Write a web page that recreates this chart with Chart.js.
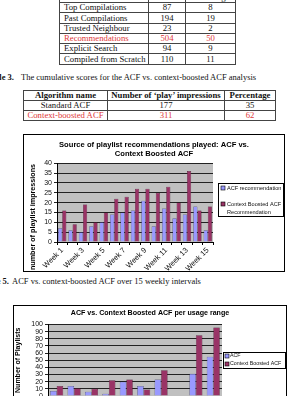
<!DOCTYPE html>
<html><head><meta charset="utf-8">
<script src="https://cdn.jsdelivr.net/npm/chart.js@4/dist/chart.umd.min.js"></script>
<style>
html,body{margin:0;padding:0;background:#fff;}
body{width:288px;height:396px;position:relative;overflow:hidden;font-family:"Liberation Serif","Times New Roman",serif;color:#111;}
.abs{position:absolute;white-space:nowrap;}
table{border-collapse:collapse;font-size:8.7px;line-height:1;}
td{border:1px solid #444;padding:0;text-align:center;}
td.l{text-align:left;padding-left:4px;}
.red{color:#e0393a;}
.cap{font-size:8.5px;line-height:1;}
.box{position:absolute;border:1px solid #000;background:#fff;}
canvas{display:block;}
</style>
</head><body>

<table class="abs" style="left:59px;top:-8px;width:177px;">
<colgroup><col style="width:89px"><col style="width:37px"><col style="width:50px"></colgroup>
<tr style="height:10px"><td class="l">Source</td><td>Number</td><td>Percentage</td></tr>
<tr style="height:10px"><td class="l">Top Compilations</td><td>87</td><td>8</td></tr>
<tr style="height:11px"><td class="l">Past Compilations</td><td>194</td><td>19</td></tr>
<tr style="height:10px"><td class="l">Trusted Neighbour</td><td>23</td><td>2</td></tr>
<tr style="height:10px" class="red"><td class="l">Recommendations</td><td>504</td><td>50</td></tr>
<tr style="height:10px"><td class="l">Explicit Search</td><td>94</td><td>9</td></tr>
<tr style="height:11px"><td class="l">Compiled from Scratch</td><td>110</td><td>11</td></tr>
</table>

<div class="abs cap" style="left:0;top:73px;width:288px;">
<span style="position:absolute;right:274px;font-weight:bold;">Table 3.</span>
<span style="position:absolute;left:21px;">The cumulative scores for the ACF vs. context-boosted ACF analysis</span>
</div>

<table class="abs" style="left:23px;top:90px;width:253px;">
<colgroup><col style="width:84px"><col style="width:117px"><col style="width:51px"></colgroup>
<tr style="height:10px;font-weight:bold"><td>Algorithm name</td><td>Number of ‘play’ impressions</td><td>Percentage</td></tr>
<tr style="height:10px"><td>Standard ACF</td><td>177</td><td>35</td></tr>
<tr style="height:10px" class="red"><td>Context-boosted ACF</td><td>311</td><td>62</td></tr>
</table>

<div class="box" style="left:23px;top:134px;width:260px;height:136px;"><canvas id="c1" width="260" height="136"></canvas></div>

<div class="abs cap" style="left:0;top:277px;width:288px;">
<span style="position:absolute;right:279px;font-weight:bold;">Figure 5.</span>
<span style="position:absolute;left:12px;">ACF vs. context-boosted ACF over 15 weekly intervals</span>
</div>

<div class="box" style="left:13px;top:305px;width:272px;height:138px;"><canvas id="c2" width="272" height="138"></canvas></div>

<script>
// ---- data: weekly chart ----
const weeks = ['Week 1','Week 2','Week 3','Week 4','Week 5','Week 6','Week 7','Week 8','Week 9','Week 10','Week 11','Week 12','Week 13','Week 14','Week 15'];
const acfRecommendation = [7,6,5,8,10,14,15,16,21,8,17,12,14,18,6];
const contextBoostedRecommendation = [16,9,19,10,15,22,23,27,27,25,28,20,36,16,18];
const weeklyTitle = ['Source of playlist recommendations played: ACF vs.','Context Boosted ACF'];
const weeklyYTitle = 'number of playlist impressions';
const weeklySeriesNames = ['ACF recommendation','Context Boosted ACF Recommendation'];

// ---- data: usage range chart ----
const usageRanges = ['1','2','3','4','5','6','7','8','9','10'];
const acfUsage = [7,14,6,3,20,14,23,0,31,55];
const contextBoostedUsage = [14,11,10,22,23,9,36,0,85,96];
const usageTitle = 'ACF vs. Context Boosted ACF per usage range';
const usageYTitle = 'Number of Playlists';
const usageSeriesNames = ['ACF','Context Boosted ACF'];

const BLUE = '#9999ff', PLUM = '#993366';

const plotBg = {
  id:'plotBg',
  beforeDraw(chart){
    const a = chart.chartArea, ctx = chart.ctx;
    ctx.save(); ctx.fillStyle = '#c0c0c0';
    ctx.fillRect(a.left, a.top, a.right - a.left, a.bottom - a.top);
    ctx.restore();
  }
};

// draws the y scale's own title text at a chosen centre (like the source, which centres it lower)
const yTitlePos = {
  id:'yTitlePos',
  afterDraw(chart, args, o){
    if (!o || o.x == null) return;
    const t = chart.options.scales.y.title;
    const ctx = chart.ctx;
    ctx.save();
    ctx.translate(o.x, o.y); ctx.rotate(-Math.PI/2);
    ctx.font = 'bold ' + o.size + 'px "Liberation Sans", Arial, sans-serif';
    ctx.fillStyle = '#000'; ctx.textAlign = 'center'; ctx.textBaseline = 'middle';
    ctx.fillText(t.text, 0, 0);
    ctx.restore();
  }
};

function wrapText(ctx, text, maxw){
  const words = text.split(' '); const lines = []; let cur = '';
  words.forEach(w => {
    const t = cur ? cur + ' ' + w : w;
    if (ctx.measureText(t).width > maxw && cur) { lines.push(cur); cur = w; } else cur = t;
  });
  if (cur) lines.push(cur);
  return lines;
}

const boxLegend = {
  id:'boxLegend',
  afterDraw(chart, args, o){
    const ctx = chart.ctx;
    ctx.save();
    ctx.fillStyle = '#fff'; ctx.fillRect(o.x, o.y, o.w, o.h);
    ctx.strokeStyle = '#000'; ctx.lineWidth = 1;
    ctx.strokeRect(o.x + 0.5, o.y + 0.5, o.w - 1, o.h - 1);
    ctx.font = o.font; ctx.textBaseline = 'middle'; ctx.textAlign = 'left';
    chart.data.datasets.forEach((ds, i) => {
      const it = o.items[i];
      ctx.fillStyle = ds.backgroundColor;
      ctx.fillRect(it.sx, it.sy - o.sq/2, o.sq, o.sq);
      ctx.strokeStyle = '#000'; ctx.lineWidth = 0.6;
      ctx.strokeRect(it.sx, it.sy - o.sq/2, o.sq, o.sq);
      ctx.fillStyle = '#111';
      wrapText(ctx, ds.label, o.maxw).forEach((l, j) => ctx.fillText(l, it.tx, it.sy + j * o.lh));
    });
    ctx.restore();
  }
};

Chart.defaults.font.family = '"Liberation Sans", Arial, sans-serif';
Chart.defaults.color = '#111';

function makeChart(id, cfg){
  return new Chart(document.getElementById(id), {
    type:'bar',
    data:{
      labels: cfg.labels,
      datasets:[
        {label: cfg.names[0], data: cfg.a, backgroundColor: BLUE, borderColor:'#2a2a60', borderWidth:0.5, categoryPercentage: cfg.cat, barPercentage:1},
        {label: cfg.names[1], data: cfg.b, backgroundColor: PLUM, borderColor:'#3a0a20', borderWidth:0.5, categoryPercentage: cfg.cat, barPercentage:1}
      ]
    },
    options:{
      responsive:false, animation:false, devicePixelRatio:1,
      layout:{padding:0},
      plugins:{
        legend:{display:false}, tooltip:{enabled:false},
        title:{display:true, text: cfg.title, font:{size: cfg.titleSize, weight:'bold'}, lineHeight:1.2, color:'#000',
               padding:{top: cfg.titleTop, bottom: cfg.titleBottom}},
        boxLegend: cfg.legend,
        yTitlePos: cfg.yTitlePos || {}
      },
      scales:{
        x:{
          grid:{display:true, drawOnChartArea:false, drawTicks:true, tickLength:3, color:'#000', offset:true},
          border:{display:true, color:'#000', width:1},
          ticks:{autoSkip:false, minRotation: cfg.rot, maxRotation: cfg.rot, padding:1, font:{size:7.5}, color:'#111',
                 callback: function(v, i){ return (i % cfg.every === 0) ? this.getLabelForValue(v) : ''; }},
          afterFit: s => { s.height = cfg.xH; }
        },
        y:{
          min:0, max: cfg.max,
          ticks:{stepSize: cfg.step, autoSkip:false, font:{size:7}, padding:2, color:'#111'},
          grid:{color:'#222', lineWidth:1, tickLength:3, drawTicks:true},
          border:{display:true, color:'#000', width:1},
          title:{display: !cfg.yTitlePos, text: cfg.yTitle, font:{size: 7, weight:'bold'}, color:'#000', padding:{top:0,bottom:0}},
          afterFit: s => { s.width = cfg.yW; }
        },
        legendSpace:{
          type:'linear', position:'right', display:true,
          grid:{display:false, drawTicks:false}, border:{display:false}, ticks:{display:false},
          afterFit: s => { s.width = cfg.padRight; }
        }
      }
    },
    plugins:[plotBg, boxLegend, yTitlePos]
  });
}

makeChart('c1', {
  labels: weeks, a: acfRecommendation, b: contextBoostedRecommendation, names: weeklySeriesNames,
  title: weeklyTitle, titleSize: 7.6, titleTop: 5, titleBottom: 5,
  yTitle: weeklyYTitle, yTitlePos: {x: 9, y: 82, size: 7.2},
  max: 40, step: 5, yW: 33, xH: 29, padRight: 71, cat: 0.8, rot: 45, every: 2,
  legend: {x:194, y:48, w:66, h:34, font:'5.6px "Liberation Sans", Arial, sans-serif', sq:4, maxw:58, lh:8,
           items:[{sx:197, sy:53, tx:203}, {sx:197, sy:69, tx:203}]}
});

makeChart('c2', {
  labels: usageRanges, a: acfUsage, b: contextBoostedUsage, names: usageSeriesNames,
  title: usageTitle, titleSize: 7.1, titleTop: 3, titleBottom: 7,
  yTitle: usageYTitle, max: 100, step: 10, yW: 34, xH: 48, padRight: 64, cat: 0.75, rot: 0, every: 1,
  legend: {x:209, y:46, w:63, h:17, font:'5.3px "Liberation Sans", Arial, sans-serif', sq:4, maxw:62, lh:8,
           items:[{sx:211, sy:50, tx:216}, {sx:211, sy:58, tx:216}]}
});
</script>
</body></html>
